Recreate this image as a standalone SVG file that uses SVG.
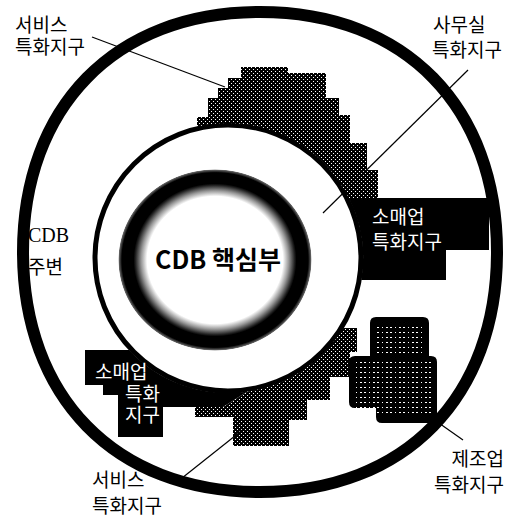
<svg xmlns="http://www.w3.org/2000/svg" width="512" height="518" viewBox="0 0 512 518">
<style>
.lbl{font-family:"Noto Sans CJK KR","Noto Sans",sans-serif;font-size:19px;fill:#000}
.wlbl{font-family:"Noto Sans CJK KR","Noto Sans",sans-serif;font-size:19px;fill:#fff}
.lat{font-family:"Liberation Serif",serif;font-size:20px;fill:#000}
.lead{stroke:#000;stroke-width:1.2;fill:none}
</style>
<defs>
<pattern id="dots" width="4" height="4" patternUnits="userSpaceOnUse">
<rect width="4" height="4" fill="#000" shape-rendering="crispEdges"/>
<rect x="1" y="1" width="1" height="1" fill="#fff" shape-rendering="crispEdges"/>
<rect x="3" y="3" width="1" height="1" fill="#fff" shape-rendering="crispEdges"/>
</pattern>
<pattern id="textlines" width="13" height="5" patternUnits="userSpaceOnUse">
<rect x="0" y="2" width="2" height="1" fill="#fff" shape-rendering="crispEdges"/>
<rect x="5" y="2" width="1" height="1" fill="#fff" shape-rendering="crispEdges"/>
<rect x="9" y="2" width="2" height="1" fill="#fff" shape-rendering="crispEdges"/>
</pattern>
<radialGradient id="coreGrad" cx="0.5" cy="0.5" r="0.5">
<stop offset="0" stop-color="#fff"/>
<stop offset="0.70" stop-color="#fff"/>
<stop offset="0.76" stop-color="#999"/>
<stop offset="0.82" stop-color="#222"/>
<stop offset="0.84" stop-color="#000"/>
<stop offset="0.96" stop-color="#000"/>
<stop offset="0.99" stop-color="#666"/>
<stop offset="1" stop-color="#fff" stop-opacity="0"/>
</radialGradient>
</defs>
<rect width="512" height="518" fill="#fff"/>

<g id="office-district">
<circle cx="228" cy="258" r="133" fill="#fff" stroke="#000" stroke-width="5"/>
<text class="lbl" x="433" y="32">사무실</text>
<text class="lbl" x="432" y="57">특화지구</text>
</g>

<g id="service-district-north">
<path d="M241,67 H288 V73 H326 V98 H339 V115 H350 V143 H367 V170 H378 V198 H348.9 A135,135 0 0 0 197,126.6 V117 H208 V98 H218 V88 H228 V78 H241 Z" fill="url(#dots)"/>
<text class="lbl" x="15" y="32">서비스</text>
<text class="lbl" x="15" y="54">특화지구</text>
</g>

<g id="service-district-south">
<path d="M343.4,328 H357 V352 H350 V377 H330 V400 H307 V420 H289 V446 H233 V417 H195 V407 H223 L247,391.7 A135,135 0 0 0 343.4,328 Z" fill="url(#dots)"/>
<text class="lbl" x="92" y="487">서비스</text>
<text class="lbl" x="92" y="513">특화지구</text>
</g>

<g id="retail-district-east">
<path d="M348.9,198 H489 V250 H446 V280 H361.2 A135,135 0 0 0 348.9,198 Z" fill="#000"/>
<text class="wlbl" x="372" y="224">소매업</text>
<text class="wlbl" x="372" y="249">특화지구</text>
</g>

<g id="retail-district-west">
<path d="M85,350 H129.2 A135,135 0 0 0 247,391.7 L223,407 H163 V437 H118 V395 H103 V385 H85 Z" fill="#000"/>
<text class="wlbl" x="95" y="379">소매업</text>
<text class="wlbl" x="125" y="401">특화</text>
<text class="wlbl" x="125" y="422">지구</text>
</g>

<g id="manufacturing-district">
<path d="M376,317 H423 Q429,317 429,323 V356 H431 Q437,356 437,362 V415 Q437,423 429,423 H382 Q376,423 376,417 V408 H355 Q349,408 349,402 V362 Q349,356 355,356 H370 V323 Q370,317 376,317 Z" fill="#000"/>
<rect x="376" y="323" width="47" height="32" fill="url(#textlines)"/>
<rect x="355" y="361" width="76" height="56" fill="url(#textlines)"/>
<text class="lbl" x="504" y="466" text-anchor="end">제조업</text>
<text class="lbl" x="504" y="492" text-anchor="end">특화지구</text>
</g>

<g id="cdb-core">
<ellipse cx="215" cy="260" rx="97" ry="91" fill="url(#coreGrad)"/>
<text x="218" y="269" text-anchor="middle" font-family="'Noto Sans CJK KR','Noto Sans',sans-serif" font-size="25" font-weight="bold" fill="#000">CDB 핵심부</text>
</g>

<g id="cdb-periphery">
<path d="M497,252 C497,396 406,492 260,492 C114,492 23,396 23,252 C23,108 114,12 260,12 C406,12 497,108 497,252 Z" fill="none" stroke="#000" stroke-width="12"/>
<text class="lat" x="28" y="242">CDB</text>
<text class="lbl" x="28" y="274">주변</text>
</g>

<g id="connectors">
<line class="lead" x1="92" y1="37" x2="225" y2="87"/>
<line class="lead" x1="468" y1="70" x2="323" y2="213"/>
<line class="lead" x1="177" y1="482" x2="245" y2="428"/>
<line class="lead" x1="436" y1="421" x2="463" y2="440"/>
</g>
</svg>
